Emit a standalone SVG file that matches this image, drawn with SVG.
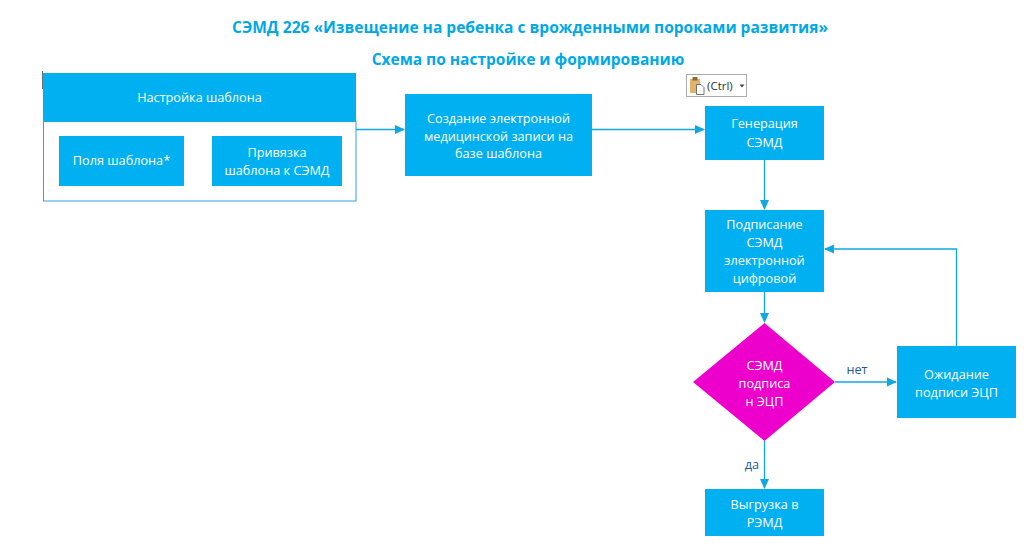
<svg xmlns="http://www.w3.org/2000/svg" width="1031" height="547" viewBox="0 0 1031 547">
<style>
.box{fill:#00B0F0;}
.t{font-family:"Open Sans","Noto Sans",sans-serif;font-size:12.7px;fill:#FFFFFF;text-anchor:middle;}
.title{font-family:"Open Sans","Noto Sans",sans-serif;font-size:15.5px;font-weight:bold;fill:#00A8E8;text-anchor:middle;}
.lbl{font-family:"Open Sans","Noto Sans",sans-serif;font-size:12.7px;fill:#1F5A9E;text-anchor:middle;}
.c{fill:none;stroke:#10A8E4;stroke-width:1.3;}
</style>
<defs>
<marker id="ah" markerWidth="10" markerHeight="10" refX="9" refY="5" orient="auto" markerUnits="userSpaceOnUse">
<path d="M0,0.5 L10,5 L0,9.5 Z" fill="#10A8E4"/>
</marker>
</defs>
<rect width="1031" height="547" fill="#FFFFFF"/>
<g id="title">
<text class="title" x="530" y="33" textLength="596" lengthAdjust="spacingAndGlyphs">СЭМД 226 «Извещение на ребенка с врожденными пороками развития»</text>
<text class="title" x="528" y="65">Схема по настройке и формированию</text>
</g>
<line x1="42.5" y1="71" x2="42.5" y2="89" stroke="#707070" stroke-width="1"/>
<g id="ctrl">
<rect x="686.5" y="74.5" width="60" height="22" fill="#FFFFFF" stroke="#ABABAB" stroke-width="1"/>
<rect x="690" y="79" width="10" height="14" fill="#E2B36B"/>
<rect x="692.5" y="77" width="5" height="3.5" fill="#8A6A3A"/>
<path d="M696.5,84.5 h4.5 l3,3 v7 h-7.5 z" fill="#FFFFFF" stroke="#555555" stroke-width="0.8"/>
<text x="707" y="90" font-family="'Open Sans','Noto Sans',sans-serif" font-size="11.5px" fill="#333333">(Ctrl)</text>
<path d="M739.5,84.5 h5 l-2.5,3 z" fill="#444444"/>
</g>
<g id="setup">
<rect x="43.5" y="121.5" width="312.5" height="79.5" fill="#FFFFFF" stroke="#2EA6E0" stroke-width="1"/>
<rect class="box" x="43" y="73" width="313" height="48.5"/>
<text class="t" x="199.5" y="102">Настройка шаблона</text>
</g>
<g id="fields">
<rect class="box" x="59" y="136" width="125" height="50"/>
<text class="t" x="121.5" y="165">Поля шаблона*</text>
</g>
<g id="binding">
<rect class="box" x="212" y="136" width="130" height="50"/>
<text class="t" x="277" y="157">Привязка</text>
<text class="t" x="277" y="175">шаблона к СЭМД</text>
</g>
<g id="create">
<rect class="box" x="405" y="94" width="187" height="82"/>
<text class="t" x="498.5" y="123">Создание электронной</text>
<text class="t" x="498.5" y="141">медицинской записи на</text>
<text class="t" x="498.5" y="158">базе шаблона</text>
</g>
<g id="gen">
<rect class="box" x="705" y="106" width="119" height="54"/>
<text class="t" x="764.5" y="128">Генерация</text>
<text class="t" x="764.5" y="147">СЭМД</text>
</g>
<g id="sign">
<rect class="box" x="705" y="210" width="119" height="82"/>
<text class="t" x="764.5" y="229">Подписание</text>
<text class="t" x="764.5" y="247">СЭМД</text>
<text class="t" x="764.5" y="265">электронной</text>
<text class="t" x="764.5" y="283">цифровой</text>
</g>
<g id="decision">
<polygon points="764.5,323 835,382 764.5,441 693,382" fill="#EE00CC"/>
<text class="t" x="764.5" y="370">СЭМД</text>
<text class="t" x="764.5" y="388">подписа</text>
<text class="t" x="764.5" y="406">н ЭЦП</text>
</g>
<g id="wait">
<rect class="box" x="897" y="346" width="119" height="72"/>
<text class="t" x="956.5" y="379">Ожидание</text>
<text class="t" x="956.5" y="397">подписи ЭЦП</text>
</g>
<g id="upload">
<rect class="box" x="705" y="489" width="119" height="47"/>
<text class="t" x="764.5" y="509">Выгрузка в</text>
<text class="t" x="764.5" y="527">РЭМД</text>
</g>
<g id="connectors">
<path class="c" d="M356,129.5 H404" marker-end="url(#ah)"/>
<path class="c" d="M592,129.5 H704" marker-end="url(#ah)"/>
<path class="c" d="M764.5,160 V209" marker-end="url(#ah)"/>
<path class="c" d="M764.5,292 V322" marker-end="url(#ah)"/>
<path class="c" d="M835,382 H896" marker-end="url(#ah)"/>
<path class="c" d="M956.5,346 V249 H825" marker-end="url(#ah)"/>
<path class="c" d="M764.5,441 V488" marker-end="url(#ah)"/>
<text class="lbl" x="857" y="374">нет</text>
<text class="lbl" x="752" y="469">да</text>
</g>
</svg>
